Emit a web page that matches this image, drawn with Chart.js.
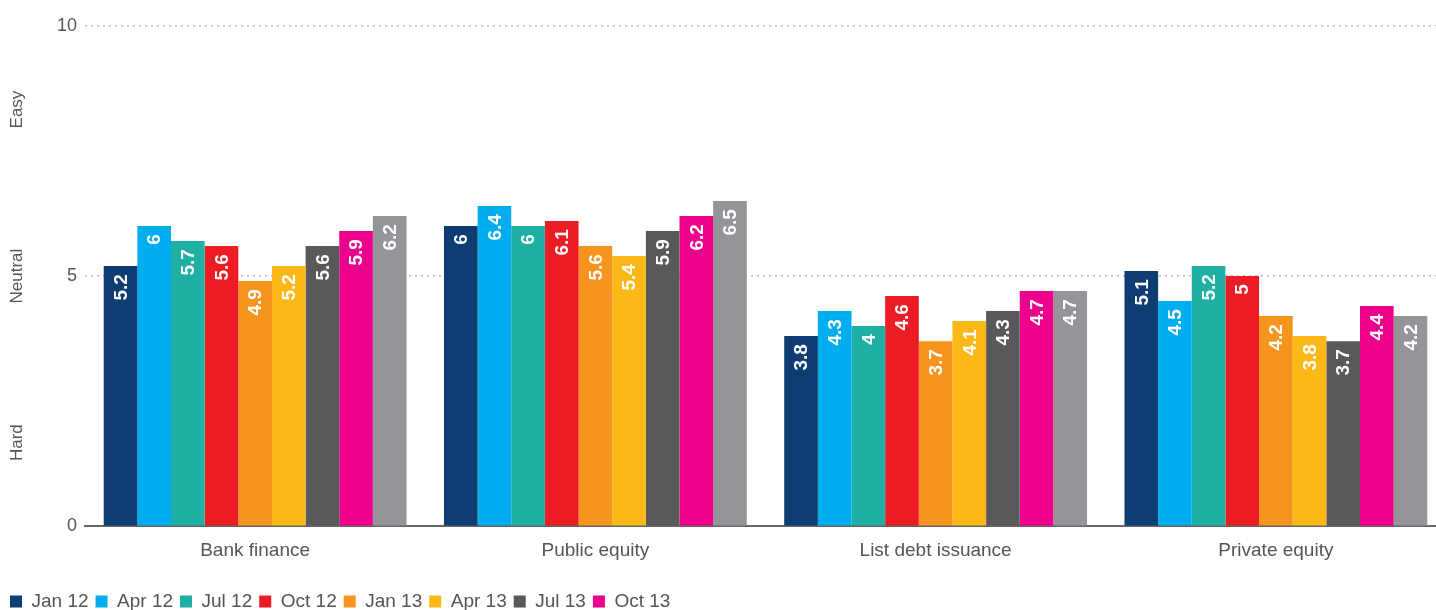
<!DOCTYPE html>
<html>
<head>
<meta charset="utf-8">
<script src="https://cdn.jsdelivr.net/npm/chart.js@4.4.1/dist/chart.umd.min.js"></script>
<style>
  html, body { margin: 0; padding: 0; background: #fff; overflow: hidden; }
  #wrap { width: 1450px; height: 610px; position: relative; }
</style>
</head>
<body>
<div id="wrap"><canvas id="funding"></canvas></div>
<script>
// funding channels surveyed each quarter
const categories = ['Bank finance', 'Public equity', 'List debt issuance', 'Private equity'];

const periods = ['Jan 12', 'Apr 12', 'Jul 12', 'Oct 12', 'Jan 13', 'Apr 13', 'Jul 13', 'Oct 13', 'Jan 14'];

const jan12 = [5.2, 6.0, 3.8, 5.1];
const apr12 = [6.0, 6.4, 4.3, 4.5];
const jul12 = [5.7, 6.0, 4.0, 5.2];
const oct12 = [5.6, 6.1, 4.6, 5.0];
const jan13 = [4.9, 5.6, 3.7, 4.2];
const apr13 = [5.2, 5.4, 4.1, 3.8];
const jul13 = [5.6, 5.9, 4.3, 3.7];
const oct13 = [5.9, 6.2, 4.7, 4.4];
const jan14 = [6.2, 6.5, 4.7, 4.2];

const yTicks = [0, 5, 10];
const sideLabels = ['Hard', 'Neutral', 'Easy'];
const sideLabelAt = [1.67, 5, 8.33];

const colors = ['#0d3d73', '#00aeef', '#1fb0a5', '#ed1c24', '#f7941d', '#fbb817', '#58595b', '#ec008c', '#939598'];

const series = [jan12, apr12, jul12, oct12, jan13, apr13, jul13, oct13, jan14];

const FONT = '"Liberation Sans", Arial, sans-serif';

const datasets = series.map((vals, i) => ({
  label: periods[i],
  data: vals,
  backgroundColor: colors[i],
  borderWidth: 0,
  categoryPercentage: 0.89,
  barPercentage: 1.0
}));

// white value text, rotated, just inside the top of each bar
const barValues = {
  id: 'barValues',
  afterDatasetsDraw(chart) {
    const ctx = chart.ctx;
    ctx.save();
    ctx.fillStyle = '#fff';
    ctx.font = 'bold 19px ' + FONT;
    ctx.textAlign = 'right';
    ctx.textBaseline = 'middle';
    chart.data.datasets.forEach((ds, di) => {
      chart.getDatasetMeta(di).data.forEach((bar, i) => {
        ctx.save();
        ctx.translate(bar.x, bar.y + 8);
        ctx.rotate(-Math.PI / 2);
        ctx.fillText(String(ds.data[i]), 0, 1);
        ctx.restore();
      });
    });
    ctx.restore();
  }
};

// Hard / Neutral / Easy along the left edge
const sideText = {
  id: 'sideText',
  afterDraw(chart) {
    const ctx = chart.ctx;
    const y = chart.scales.y;
    ctx.save();
    ctx.fillStyle = '#555';
    ctx.font = '17px ' + FONT;
    ctx.textAlign = 'center';
    ctx.textBaseline = 'middle';
    sideLabels.forEach((t, i) => {
      ctx.save();
      ctx.translate(17, y.getPixelForValue(sideLabelAt[i]));
      ctx.rotate(-Math.PI / 2);
      ctx.fillText(t, 0, 0);
      ctx.restore();
    });
    ctx.restore();
  }
};

new Chart(document.getElementById('funding'), {
  type: 'bar',
  data: { labels: categories, datasets: datasets },
  options: {
    responsive: true,
    maintainAspectRatio: false,
    animation: false,
    layout: { padding: { left: 3, right: 4, top: 26, bottom: -11 } },
    plugins: {
      tooltip: { enabled: false },
      legend: {
        position: 'bottom',
        align: 'start',
        labels: {
          boxWidth: 12,
          boxHeight: 12,
          padding: 7,
          color: '#555',
          font: { family: FONT, size: 19 },
          filter: item => item.text !== 'Jan 14'
        }
      }
    },
    scales: {
      x: {
        grid: { display: false },
        border: { color: '#666', width: 2 },
        afterFit(axis) { axis.height += 18; },
        ticks: {
          color: '#555',
          padding: 5,
          font: { family: FONT, size: 19 }
        }
      },
      y: {
        min: 0,
        max: 10,
        afterFit(axis) { axis.width = 82; },
        afterBuildTicks(axis) { axis.ticks = yTicks.map(v => ({ value: v })); },
        border: { display: false, dash: [2, 4] },
        grid: {
          drawTicks: false,
          lineWidth: 1.5,
          color: ctx => ctx.tick && ctx.tick.value === 0 ? 'rgba(0,0,0,0)' : '#bbb'
        },
        ticks: {
          color: '#555',
          padding: 8,
          font: { family: FONT, size: 18 }
        }
      }
    }
  },
  plugins: [barValues, sideText]
});
</script>
</body>
</html>
